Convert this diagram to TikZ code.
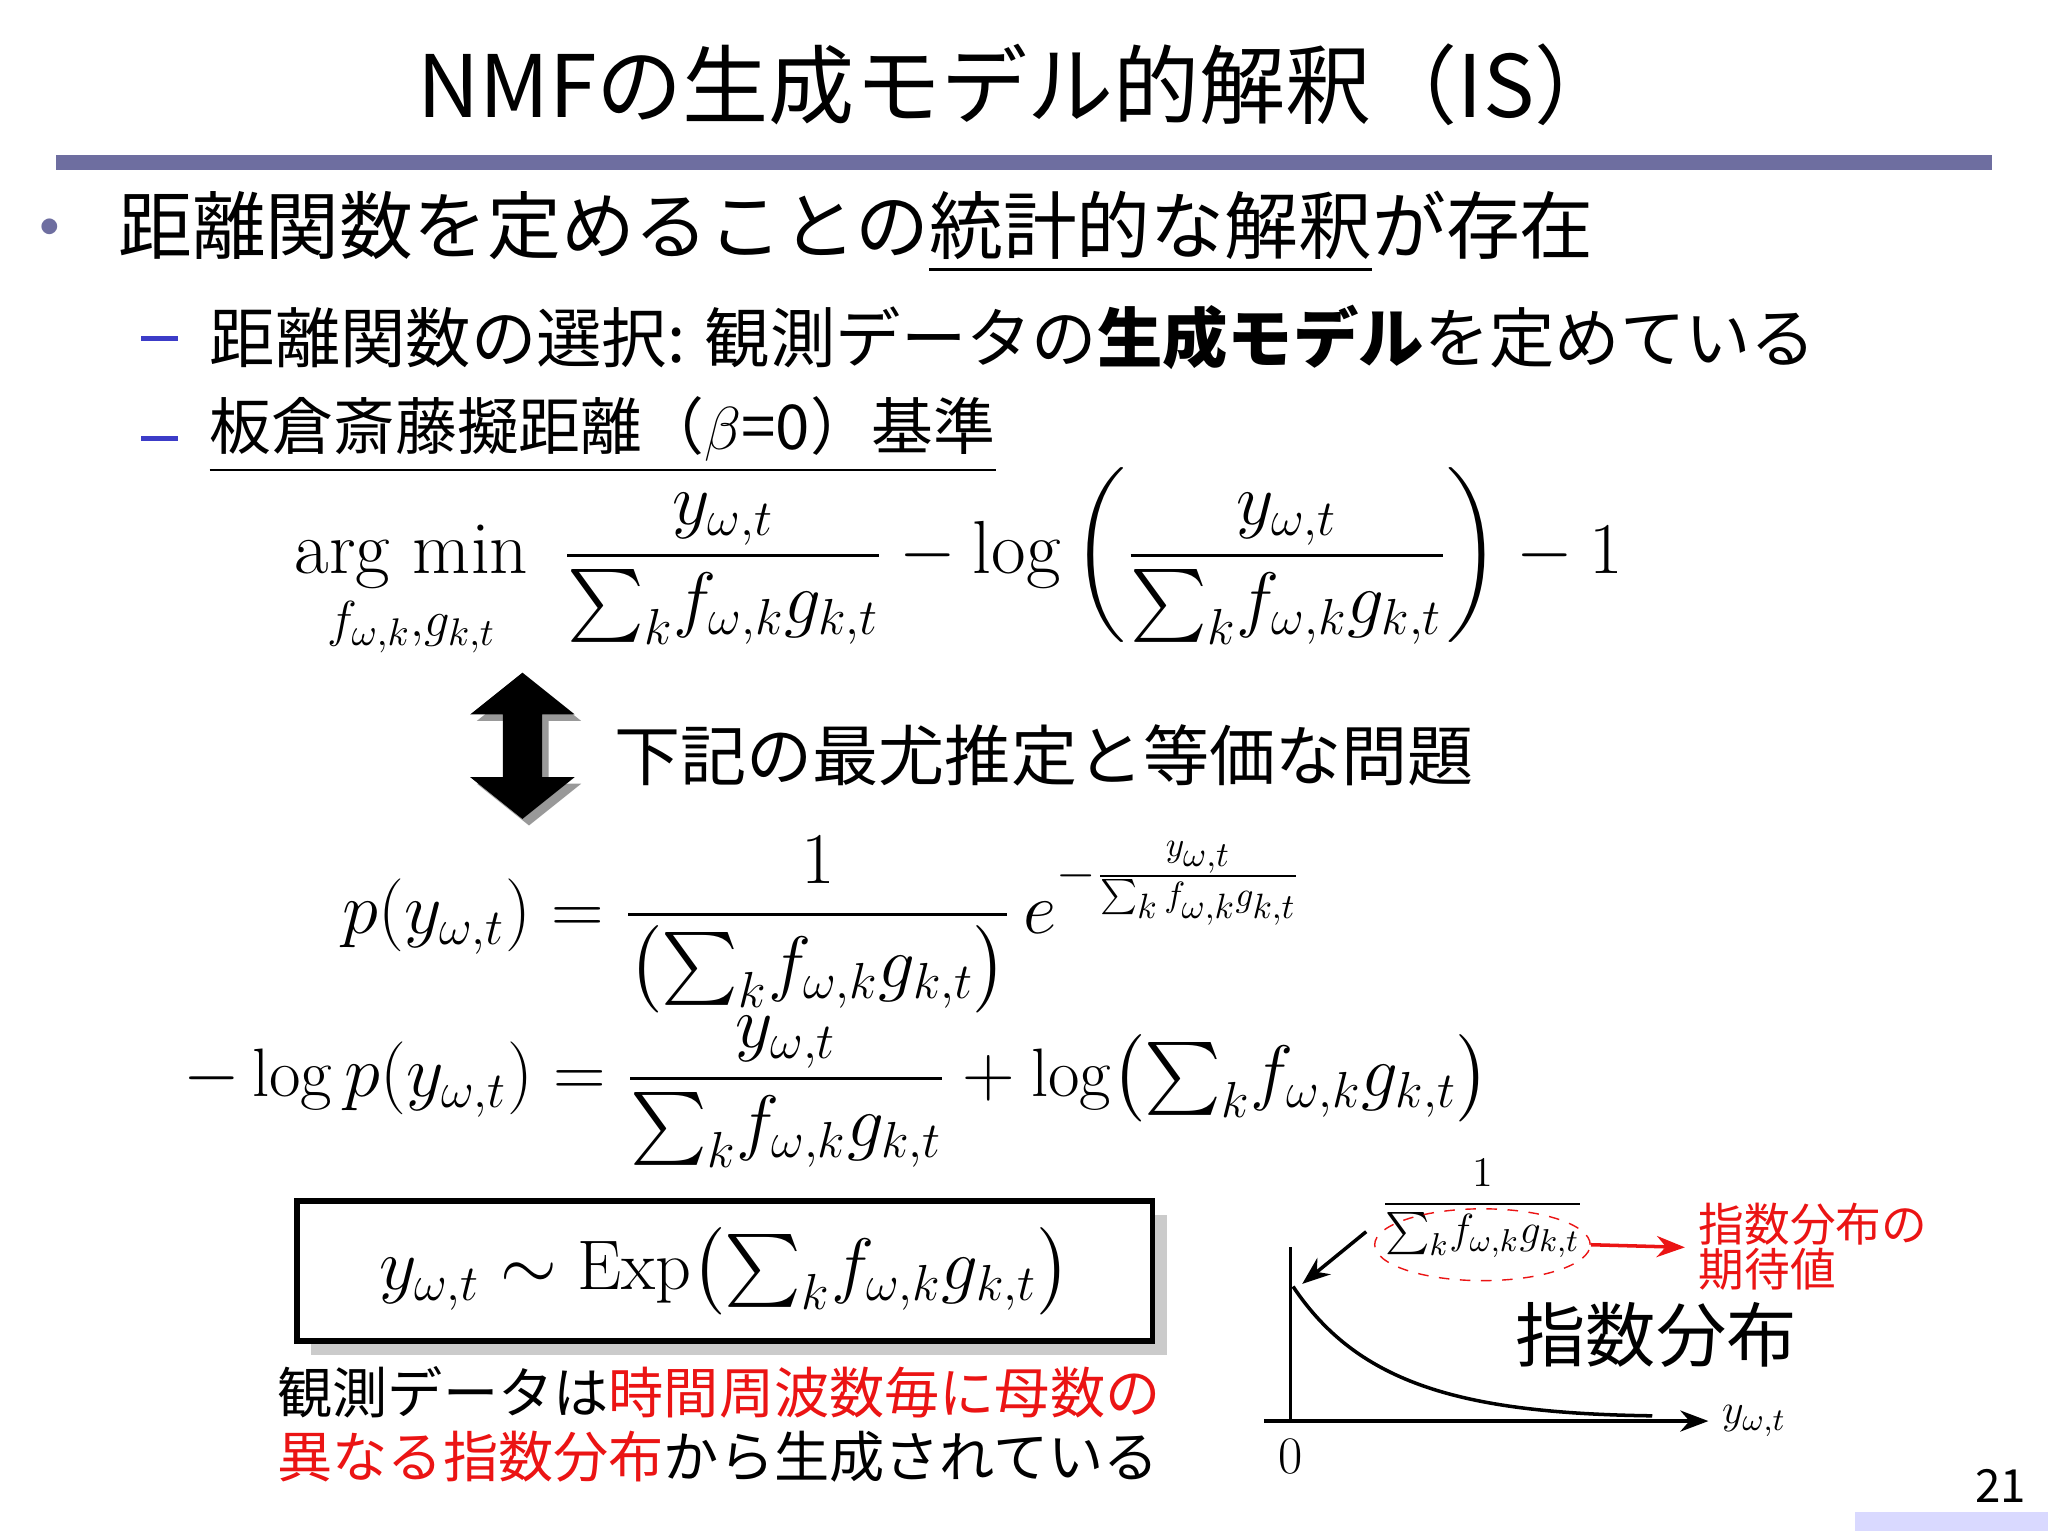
\documentclass[tikz,border=0pt]{standalone}
\usepackage{amsmath}
\usepackage{fontspec}
\newfontfamily\jp{Noto Sans CJK JP}
\usetikzlibrary{arrows.meta,shadows,shapes.geometric}
\definecolor{rulecol}{RGB}{110,110,160}
\definecolor{dashblue}{RGB}{60,60,200}
\definecolor{myred}{RGB}{235,20,20}
\tikzset{
 txt/.style={inner sep=0pt,anchor=west,font=\jp},
 mth/.style={inner sep=0pt,anchor=west,font=\fontsize{20}{24}\selectfont},
 dsh/.style={fill=dashblue},
}
\newcommand{\sfg}{{\textstyle\sum_k} f_{\omega,k} g_{k,t}}
\begin{document}
\begin{tikzpicture}[x=0.013061cm,y=-0.013061cm]
\useasboundingbox (0,0) rectangle (1568,1176);
\fill[white] (0,0) rectangle (1568,1176);
\node[inner sep=0pt,font=\jp\fontsize{24.5}{28}\selectfont] (title) at (780,65) {NMFの生成モデル的解釈（IS）};
\fill[rulecol] (43,119) rectangle (1525,130);
\node[inner sep=0pt,text=rulecol,font=\fontsize{20}{24}\selectfont] (b1) at (38,178) {•};
\node[txt,font=\jp\fontsize{21}{25}\selectfont] (t1) at (90,178) {距離関数を定めることの\underline{統計的な解釈}が存在};
\fill[dsh] (108,257) rectangle (136,261);
\node[txt,font=\jp\fontsize{18.6}{22}\selectfont] (t2) at (160,258) {距離関数の選択: 観測データの\textbf{生成モデル}を定めている};
\fill[dsh] (108,334) rectangle (136,338);
\node[txt,font=\jp\fontsize{17.6}{22}\selectfont] (t3) at (160,333) {\underline{板倉斎藤擬距離（$\beta$=0）基準}};
\node[mth,font=\fontsize{21.4}{26}\selectfont] (eq1) at (225,432) {$\displaystyle \mathop{\mathrm{arg\ min}}_{f_{\omega,k},g_{k,t}}\ \frac{y_{\omega,t}}{\sfg} - \log\left(\frac{y_{\omega,t}}{\sfg}\right) - 1$};
% double arrow
\fill[black!40] (405,520) -- (445,552) -- (420,552) -- (420,600) -- (445,600) -- (405,632) -- (365,600) -- (390,600) -- (390,552) -- (365,552) -- cycle;
\fill[black] (400,515) -- (440,547) -- (415,547) -- (415,595) -- (440,595) -- (400,627) -- (360,595) -- (385,595) -- (385,547) -- (360,547) -- cycle;
\node[txt,font=\jp\fontsize{18.8}{22}\selectfont] (t4) at (470,578) {下記の最尤推定と等価な問題};
\node[mth] (eq2) at (262,708) {$\displaystyle p(y_{\omega,t}) = \frac{1}{\bigl(\sfg\bigr)}\, e^{-\frac{y_{\omega,t}}{\sum_k f_{\omega,k} g_{k,t}}}$};
\node[mth,font=\fontsize{19.5}{24}\selectfont] (eq3) at (140,836) {$\displaystyle -\log p(y_{\omega,t}) = \frac{y_{\omega,t}}{\sfg} + \log\bigl(\sfg\bigr)$};
\node[draw,line width=1.6pt,fill=white,drop shadow={shadow xshift=4pt,shadow yshift=-4pt,fill=black!40},minimum width=655*0.013061cm,minimum height=107*0.013061cm,inner sep=0pt,font=\fontsize{20}{24}\selectfont] (box) at (555,973) {$\displaystyle y_{\omega,t} \sim \mathrm{Exp}\bigl(\sfg\bigr)$};
\node[txt,font=\jp\fontsize{15.7}{20}\selectfont] (t5) at (212,1066) {観測データは\textcolor{myred}{時間周波数毎に母数の}};
\node[txt,font=\jp\fontsize{15.7}{20}\selectfont] (t6) at (212,1115) {\textcolor{myred}{異なる指数分布}から生成されている};
% plot
\coordinate (o) at (988,1088);
\coordinate (vt) at (988,955);
\coordinate (hl) at (968,1088);
\coordinate (hr) at (1308,1088);
\draw[line width=1pt] (o) -- (vt);
\draw[line width=1pt,-{Stealth[length=8pt]}] (hl) -- (hr);
\draw[line width=1pt] (990,985) .. controls (1040,1060) and (1120,1082) .. (1265,1084);
\node[inner sep=0pt,font=\fontsize{15}{18}\selectfont] (zero) at (988,1115) {0};
\node[inner sep=0pt,anchor=west,font=\fontsize{13}{16}\selectfont] (ylab) at (1318,1088) {$y_{\omega,t}$};
\node[inner sep=0pt,font=\fontsize{13}{16}\selectfont] (frac) at (1135,925) {$\displaystyle\frac{1}{\sfg}$};
\node[draw=myred,dashed,ellipse,minimum width=165*0.013061cm,minimum height=55*0.013061cm,inner sep=0pt] (ell) at (1135,953) {};
\coordinate (pk) at (997,983);
\draw[line width=1pt,-{Stealth[length=8pt]}] (1046,943) -- (pk);
\node[txt,text=myred,font=\jp\fontsize{13}{16}\selectfont] (r1) at (1300,937) {指数分布の};
\node[txt,text=myred,font=\jp\fontsize{13}{16}\selectfont] (r2) at (1300,972) {期待値};
\draw[myred,line width=1pt,-{Stealth[length=8pt]}] (ell.east) -- (1290,955);
\node[inner sep=0pt,font=\jp\fontsize{20}{24}\selectfont] (lab) at (1268,1022) {指数分布};
\fill[blue!15] (1420,1158) rectangle (1568,1172);
\node[inner sep=0pt,font=\jp\fontsize{13}{16}\selectfont] (pg) at (1532,1138) {21};
\end{tikzpicture}
\end{document}
